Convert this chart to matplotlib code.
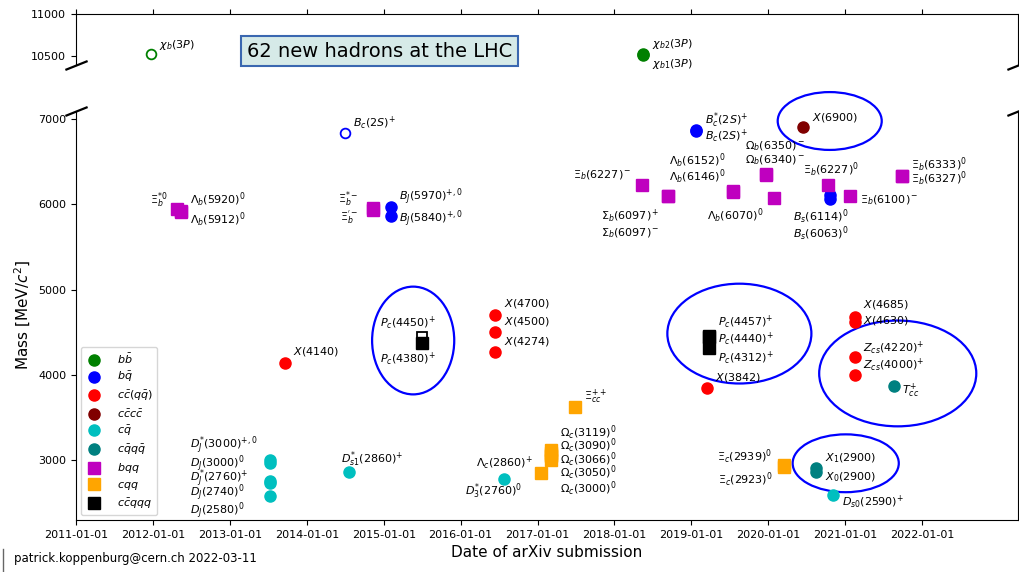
import numpy as np
import matplotlib
matplotlib.use('Agg')
import matplotlib.pyplot as plt
import matplotlib.dates as mdates
from matplotlib.patches import Ellipse
from datetime import datetime, timedelta

# hadron data: name, arXiv date, mass [MeV], quark content, open marker
names = ['chib3P', 'chib1_3P', 'chib2_3P',
         'Bc2S_atlas', 'Bc2S', 'Bcs2S', 'BJ5970', 'BJ5840', 'Bs6114', 'Bs6063',
         'X4140', 'X4274', 'X4500', 'X4700', 'X3842', 'X4685', 'X4630', 'Zcs4220', 'Zcs4000',
         'X6900',
         'DJs3000', 'DJ3000', 'DJs2760', 'DJ2740', 'DJ2580', 'Ds1_2860', 'D3_2760', 'Ds0_2590',
         'X0_2900', 'X1_2900', 'Tcc',
         'Xibs0', 'Lb5912', 'Lb5920', 'Xibp_m', 'Xibs_m', 'Xib6227m', 'Sb6097p', 'Sb6097m',
         'Lb6146', 'Lb6152', 'Ob6340', 'Ob6350', 'Lb6070', 'Xib6227_0', 'Xib6100',
         'Xib6327', 'Xib6333',
         'Oc3000', 'Oc3050', 'Oc3066', 'Oc3090', 'Oc3119', 'Lc2860', 'Xicc', 'Xic2923', 'Xic2939',
         'Pc4450', 'Pc4380', 'Pc4312', 'Pc4440', 'Pc4457']
dates = ['2011-12-21', '2018-05-17', '2018-05-17',
         '2014-07-03', '2019-01-21', '2019-01-21', '2015-02-06', '2015-02-06', '2020-10-19', '2020-10-19',
         '2013-09-19', '2016-06-13', '2016-06-13', '2016-06-13', '2019-03-16', '2021-02-17', '2021-02-17',
         '2021-02-17', '2021-02-17',
         '2020-06-16',
         '2013-07-10', '2013-07-10', '2013-07-10', '2013-07-10', '2013-07-10', '2014-07-19', '2016-07-26',
         '2020-11-03',
         '2020-08-16', '2020-08-16', '2021-08-21',
         '2012-04-24', '2012-05-14', '2012-05-14', '2014-11-10', '2014-11-10', '2018-05-11', '2018-09-12',
         '2018-09-12', '2019-07-17', '2019-07-17', '2019-12-21', '2019-12-21', '2020-01-29', '2020-10-11',
         '2021-01-24', '2021-09-28', '2021-09-28',
         '2017-03-06', '2017-03-06', '2017-03-06', '2017-03-06', '2017-03-06', '2017-01-18', '2017-06-28',
         '2020-03-17', '2020-03-17',
         '2015-07-01', '2015-07-01', '2019-03-26', '2019-03-26', '2019-03-26']
masses = [10530, 10513, 10524,
          6842, 6862, 6871, 5970, 5863, 6114, 6063,
          4146, 4273, 4506, 4704, 3842, 4684, 4626, 4216, 4003,
          6905,
          3008, 2971, 2761, 2737, 2579, 2860, 2775, 2591,
          2866, 2904, 3875,
          5945, 5912, 5920, 5935, 5955, 6227, 6097, 6097,
          6146, 6152, 6340, 6350, 6072, 6227, 6100, 6327, 6333,
          3000, 3050, 3066, 3090, 3119, 2856, 3621, 2923, 2939,
          4450, 4380, 4312, 4440, 4457]
content = ['bb', 'bb', 'bb',
           'bq', 'bq', 'bq', 'bq', 'bq', 'bq', 'bq',
           'ccqq', 'ccqq', 'ccqq', 'ccqq', 'ccqq', 'ccqq', 'ccqq', 'ccqq', 'ccqq',
           'cccc',
           'cq', 'cq', 'cq', 'cq', 'cq', 'cq', 'cq', 'cq',
           'cqqq', 'cqqq', 'cqqq'] + ['bqq'] * 17 + ['cqq'] * 9 + ['ccqqq'] * 5
open_marker = ['chib3P', 'Bc2S_atlas', 'Pc4450']

categories = ['bb', 'bq', 'ccqq', 'cccc', 'cq', 'cqqq', 'bqq', 'cqq', 'ccqqq']
cat_labels = [r'$b\bar{b}$', r'$b\bar{q}$', r'$c\bar{c}(q\bar{q})$', r'$c\bar{c}c\bar{c}$',
              r'$c\bar{q}$', r'$c\bar{q}q\bar{q}$', r'$bqq$', r'$cqq$', r'$c\bar{c}qqq$']
cat_colors = ['green', 'blue', 'red', 'maroon', 'c', 'teal', 'm', 'orange', 'black']
cat_markers = ['o', 'o', 'o', 'o', 'o', 'o', 's', 's', 's']

# labels: name -> (text, dx px, dy px, ha)
labels = {
    'chib3P': (r'$\chi_b(3P)$', 8, -9, 'left'),
    'chib2_3P': (r'$\chi_{b2}(3P)$', 9, -10, 'left'),
    'chib1_3P': (r'$\chi_{b1}(3P)$', 9, 9, 'left'),
    'Bc2S_atlas': (r'$B_c(2S)^{+}$', 8, -10, 'left'),
    'Bcs2S': (r'$B_c^{*}(2S)^{+}$', 9, -10, 'left'),
    'Bc2S': (r'$B_c(2S)^{+}$', 9, 5, 'left'),
    'X6900': (r'$X(6900)$', 9, -10, 'left'),
    'Xibs0': (r'$\Xi_b^{*0}$', -9, -9, 'right'),
    'Lb5920': (r'$\Lambda_b(5920)^0$', 9, -11, 'left'),
    'Lb5912': (r'$\Lambda_b(5912)^0$', 9, 8, 'left'),
    'Xibs_m': (r'$\Xi_b^{*-}$', -15, -9, 'right'),
    'Xibp_m': (r"$\Xi_b^{'-}$", -15, 8, 'right'),
    'BJ5970': (r'$B_J(5970)^{+,0}$', 8, -10, 'left'),
    'BJ5840': (r'$B_J(5840)^{+,0}$', 8, 2, 'left'),
    'Xib6227m': (r'$\Xi_b(6227)^-$', -10, -10, 'right'),
    'Sb6097p': (r'$\Sigma_b(6097)^+$', -8, 19, 'right'),
    'Sb6097m': (r'$\Sigma_b(6097)^-$', -8, 37, 'right'),
    'Lb6152': (r'$\Lambda_b(6152)^0$', -7, -30, 'right'),
    'Lb6146': (r'$\Lambda_b(6146)^0$', -7, -15, 'right'),
    'Ob6350': (r'$\Omega_b(6350)^-$', -21, -28, 'left'),
    'Ob6340': (r'$\Omega_b(6340)^-$', -21, -15, 'left'),
    'Lb6070': (r'$\Lambda_b(6070)^0$', -11, 18, 'right'),
    'Xib6227_0': (r'$\Xi_b(6227)^0$', -25, -15, 'left'),
    'Bs6114': (r'$B_s(6114)^0$', -37, 22, 'left'),
    'Bs6063': (r'$B_s(6063)^0$', -37, 35, 'left'),
    'Xib6100': (r'$\Xi_b(6100)^-$', 10, 4, 'left'),
    'Xib6333': (r'$\Xi_b(6333)^0$', 9, -11, 'left'),
    'Xib6327': (r'$\Xi_b(6327)^0$', 9, 2, 'left'),
    'X4140': (r'$X(4140)$', 8, -11, 'left'),
    'Pc4450': (r'$P_c(4450)^{+}$', -14, -14, 'center'),
    'Pc4380': (r'$P_c(4380)^{+}$', -14, 16, 'center'),
    'X4700': (r'$X(4700)$', 9, -11, 'left'),
    'X4500': (r'$X(4500)$', 9, -10, 'left'),
    'X4274': (r'$X(4274)$', 9, -10, 'left'),
    'Xicc': (r'$\Xi_{cc}^{++}$', 9, -10, 'left'),
    'Pc4457': (r'$P_c(4457)^{+}$', 9, -14, 'left'),
    'Pc4440': (r'$P_c(4440)^{+}$', 9, 1, 'left'),
    'Pc4312': (r'$P_c(4312)^{+}$', 9, 9, 'left'),
    'X3842': (r'$X(3842)$', 8, -11, 'left'),
    'X4685': (r'$X(4685)$', 8, -12, 'left'),
    'X4630': (r'$X(4630)$', 8, -1, 'left'),
    'Zcs4220': (r'$Z_{cs}(4220)^{+}$', 8, -9, 'left'),
    'Zcs4000': (r'$Z_{cs}(4000)^{+}$', 8, -10, 'left'),
    'Tcc': (r'$T_{cc}^{+}$', 8, 5, 'left'),
    'DJs3000': (r'$D_J^{*}(3000)^{+,0}$', -80, -14, 'left'),
    'DJ3000': (r'$D_J(3000)^0$', -80, 1, 'left'),
    'DJs2760': (r'$D_J^{*}(2760)^{+}$', -80, -2, 'left'),
    'DJ2740': (r'$D_J(2740)^0$', -80, 10, 'left'),
    'DJ2580': (r'$D_J(2580)^0$', -80, 14, 'left'),
    'Ds1_2860': (r'$D_{s1}^{*}(2860)^{+}$', -8, -13, 'left'),
    'Lc2860': (r'$\Lambda_c(2860)^{+}$', -8, -10, 'right'),
    'D3_2760': (r'$D_3^{*}(2760)^0$', 18, 12, 'right'),
    'Oc3119': (r'$\Omega_c(3119)^0$', 9, -17, 'left'),
    'Oc3090': (r'$\Omega_c(3090)^0$', 9, -7, 'left'),
    'Oc3066': (r'$\Omega_c(3066)^0$', 9, 5, 'left'),
    'Oc3050': (r'$\Omega_c(3050)^0$', 9, 17, 'left'),
    'Oc3000': (r'$\Omega_c(3000)^0$', 9, 29, 'left'),
    'Xic2939': (r'$\Xi_c(2939)^0$', -12, -9, 'right'),
    'Xic2923': (r'$\Xi_c(2923)^0$', -12, 13, 'right'),
    'X1_2900': (r'$X_1(2900)$', 9, -10, 'left'),
    'X0_2900': (r'$X_0(2900)$', 9, 5, 'left'),
    'Ds0_2590': (r'$D_{s0}(2590)^{+}$', 9, 6, 'left'),
}

# circled groups: centre date, centre mass, width [days], height [MeV]
circles = [('2015-05-21', 4404, 390, 1263),
           ('2019-08-17', 4485, 684, 1170),
           ('2020-10-19', 6977, 494, 678),
           ('2021-09-07', 4018, 746, 1240),
           ('2021-01-03', 2965, 504, 678)]

n_hadrons = 62

dpi = 100
fig = plt.figure(figsize=(10.19, 5.72), dpi=dpi)
ax_top = fig.add_axes([0.0746, 0.8872, 0.9244, 0.0883])
ax = fig.add_axes([0.0746, 0.0909, 0.9244, 0.7159])

d = [datetime.strptime(s, '%Y-%m-%d') for s in dates]
px = 72.0 / dpi

for cat, lab, col, mk in zip(categories, cat_labels, cat_colors, cat_markers):
    idx = [i for i, c in enumerate(content) if c == cat]
    for a in (ax, ax_top):
        xs_open = [d[i] for i in idx if names[i] in open_marker]
        ys_open = [masses[i] for i in idx if names[i] in open_marker]
        a.plot(xs_open, ys_open, mk, color=col, mfc='white', mec=col, mew=1.3, ms=7)
        xs = [d[i] for i in idx if names[i] not in open_marker]
        ys = [masses[i] for i in idx if names[i] not in open_marker]
        a.plot(xs, ys, mk, color=col, ms=8, label=lab if a is ax else None)

for i, name in enumerate(names):
    if name not in labels:
        continue
    text, dx, dy, ha = labels[name]
    a = ax_top if masses[i] > 10000 else ax
    a.annotate(text, (d[i], masses[i]), xytext=(dx * px, -dy * px),
               textcoords='offset points', ha=ha, va='center', fontsize=8)

for cd, cm, w, h in circles:
    c = mdates.date2num(datetime.strptime(cd, '%Y-%m-%d'))
    ax.add_patch(Ellipse((c, cm), w, h, fill=False, edgecolor='blue', lw=1.6, clip_on=False))

xmin, xmax = datetime(2011, 1, 1), datetime(2023, 4, 1)
for a in (ax, ax_top):
    a.set_xlim(xmin, xmax)
    a.xaxis.set_major_formatter(mdates.DateFormatter('%Y-%m-%d'))
    a.tick_params(labelsize=8)
    a.xaxis.set_ticks([datetime(y, 1, 1) for y in range(2011, 2023)])

ax.set_ylim(2300, 7100)
ax.set_yticks([3000, 4000, 5000, 6000, 7000])
ax_top.set_ylim(10400, 11000)
ax_top.set_yticks([10500, 11000])

ax.spines['top'].set_visible(False)
ax_top.spines['bottom'].set_visible(False)
ax_top.xaxis.tick_top()
ax_top.tick_params(labeltop=False)
ax.xaxis.tick_bottom()

# break marks
k = 0.4
kw = dict(marker=[(-1, -k), (1, k)], markersize=16, linestyle='none', color='k',
          mec='k', mew=1.6, clip_on=False)
ax_top.plot([0, 1], [0, 0], transform=ax_top.transAxes, **kw)
ax.plot([0, 1], [1, 1], transform=ax.transAxes, **kw)

ax.set_ylabel(r'Mass [MeV/$c^2$]', fontsize=11)
ax.set_xlabel('Date of arXiv submission', fontsize=11)
ax.legend(loc='lower left', fontsize=8, numpoints=1, borderpad=0.4, borderaxespad=0.45,
          labelspacing=0.4, handlelength=1.5, handletextpad=1.3, bbox_to_anchor=(0.0, 0.0))

fig.text(0.3724, 0.9108, '%d new hadrons at the LHC' % n_hadrons, fontsize=14, ha='center', va='center',
         bbox=dict(boxstyle='square,pad=0.28', facecolor='#d6eae8', edgecolor='#3a67b0', lw=1.5))
fig.text(0.0137, 0.012, 'patrick.koppenburg@cern.ch 2022-03-11', fontsize=8.5, ha='left', va='bottom')
fig.add_artist(plt.Line2D([0.003, 0.003], [0.0, 0.04], color='0.4', lw=1, transform=fig.transFigure))

fig.savefig('out.png', dpi=dpi)
